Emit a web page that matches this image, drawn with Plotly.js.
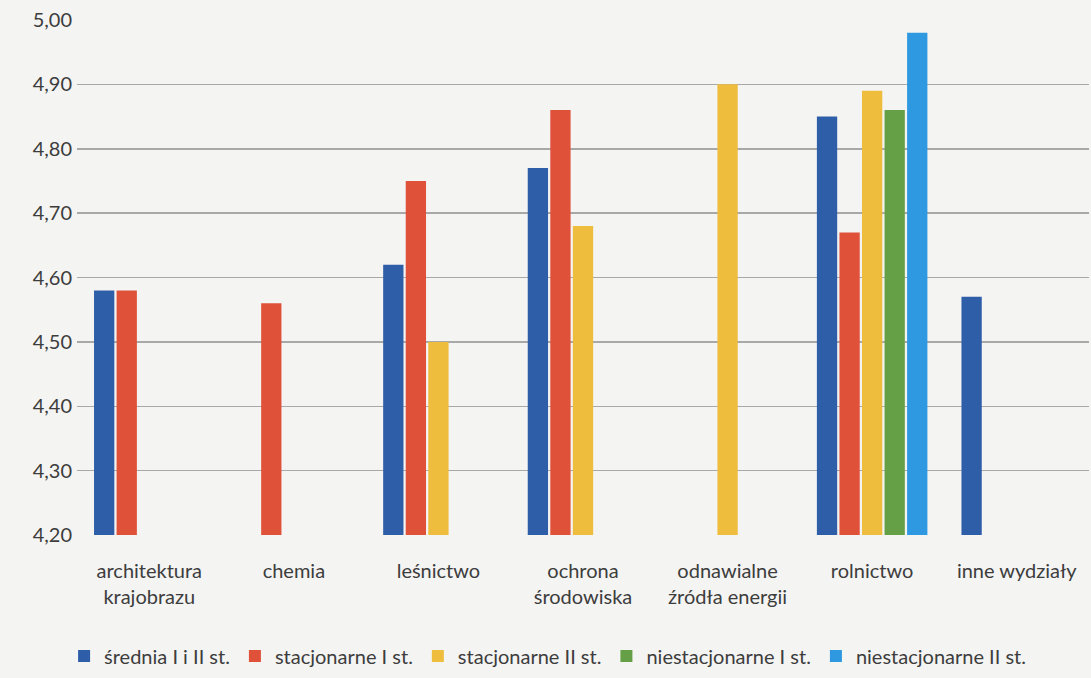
<!DOCTYPE html>
<html>
<head>
<meta charset="utf-8">
<script src="https://cdn.plot.ly/plotly-3.0.1.min.js"></script>
<style>html,body{margin:0;padding:0;background:#f4f4f3;}#chart{width:1091px;height:678px;}</style>
</head>
<body>
<div id="chart"></div>
<script>
const categories = ["architektura<br>krajobrazu", "chemia", "leśnictwo", "ochrona<br>środowiska", "odnawialne<br>źródła energii", "rolnictwo", "inne wydziały"];
const seriesNames = ["średnia I i II st.", "stacjonarne I st.", "stacjonarne II st.", "niestacjonarne I st.", "niestacjonarne II st."];
const sredniaIiII = [4.58, null, 4.62, 4.77, null, 4.85, 4.57];
const stacjonarneI = [4.58, 4.56, 4.75, 4.86, null, 4.67, null];
const stacjonarneII = [null, null, 4.50, 4.68, 4.90, 4.89, null];
const niestacjonarneI = [null, null, null, null, null, 4.86, null];
const niestacjonarneII = [null, null, null, null, null, 4.98, null];
const yTicks = [4.2, 4.3, 4.4, 4.5, 4.6, 4.7, 4.8, 4.9, 5.0];
const axisBase = 4.2;

const colors = ["#2f5ea8", "#e0513a", "#efbd3e", "#66a046", "#2e98e0"];
const values = [sredniaIiII, stacjonarneI, stacjonarneII, niestacjonarneI, niestacjonarneII];

const data = values.map((v, i) => ({
  type: "bar",
  name: seriesNames[i],
  x: categories,
  y: v.map(d => d === null ? null : d - axisBase),
  marker: {color: colors[i]},
  hoverinfo: "none"
}));

const txt = "#3d3d3d";
const layout = {
  width: 1091, height: 678,
  paper_bgcolor: "#f4f4f3", plot_bgcolor: "#f4f4f3",
  margin: {l: 77, r: 2, t: 20, b: 140},
  barmode: "group",
  bargap: 0.22,
  bargroupgap: 0.1,
  font: {family: "Lato, 'Open Sans', sans-serif", size: 20, color: txt},
  xaxis: {
    type: "category",
    showgrid: false, zeroline: false, showline: false,
    ticks: "", tickfont: {size: 20, color: txt},
    ticklabelstandoff: 22,
    automargin: false
  },
  yaxis: {
    range: [0, yTicks[yTicks.length - 1] - axisBase],
    tickvals: yTicks.map(t => t - axisBase),
    ticktext: yTicks.map(t => t.toFixed(2).replace(".", ",")),
    showgrid: true, gridcolor: "#a8a8a8", gridwidth: 1.5,
    zeroline: false, showline: false, ticks: "",
    tickfont: {size: 20, color: txt},
    ticklabelstandoff: 4,
    automargin: false
  },
  showlegend: true,
  legend: {
    orientation: "h", x: 0.465, xanchor: "center", y: -0.235, yanchor: "middle",
    font: {size: 20, color: txt}, itemwidth: 30, traceorder: "normal",
    bgcolor: "rgba(0,0,0,0)"
  }
};

Plotly.newPlot("chart", data, layout, {displayModeBar: false, staticPlot: true});
</script>
</body>
</html>
